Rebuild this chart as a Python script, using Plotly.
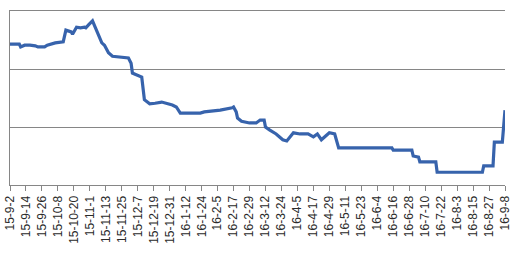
import plotly.graph_objects as go

dates = [
    "2015-09-02", "2015-09-09", "2015-09-10", "2015-09-13", "2015-09-17", "2015-09-21",
    "2015-09-23", "2015-09-28", "2015-09-30", "2015-10-06", "2015-10-12", "2015-10-14",
    "2015-10-18", "2015-10-19", "2015-10-22", "2015-10-25", "2015-10-28", "2015-10-29",
    "2015-10-31", "2015-11-03", "2015-11-05", "2015-11-06", "2015-11-10", "2015-11-12",
    "2015-11-15", "2015-11-18", "2015-11-30", "2015-12-02", "2015-12-03", "2015-12-05",
    "2015-12-10", "2015-12-12", "2015-12-16", "2015-12-20", "2015-12-25", "2016-01-02",
    "2016-01-05", "2016-01-08", "2016-01-23", "2016-01-26", "2016-02-03", "2016-02-07",
    "2016-02-16", "2016-02-17", "2016-02-19", "2016-02-20", "2016-02-23", "2016-02-29",
    "2016-03-05", "2016-03-08", "2016-03-11", "2016-03-12", "2016-03-15", "2016-03-20",
    "2016-03-25", "2016-03-28", "2016-04-02", "2016-04-07", "2016-04-13", "2016-04-17",
    "2016-04-20", "2016-04-23", "2016-04-29", "2016-05-03", "2016-05-06", "2016-06-15",
    "2016-06-16", "2016-06-30", "2016-07-01", "2016-07-05", "2016-07-06", "2016-07-18",
    "2016-07-19", "2016-08-22", "2016-08-23", "2016-08-30", "2016-08-31", "2016-09-06",
    "2016-09-08",
]
values = [
    2.43, 2.43, 2.38, 2.41, 2.41, 2.40,
    2.38, 2.38, 2.41, 2.45, 2.47, 2.67,
    2.64, 2.60, 2.72, 2.71, 2.72, 2.71,
    2.76, 2.83, 2.72, 2.67, 2.45, 2.41,
    2.28, 2.22, 2.19, 2.10, 1.93, 1.91,
    1.86, 1.47, 1.40, 1.41, 1.43, 1.38,
    1.345, 1.24, 1.24, 1.26, 1.28, 1.29,
    1.33, 1.345, 1.26, 1.155, 1.10, 1.07,
    1.07, 1.12, 1.12, 1.00, 0.95, 0.88,
    0.78, 0.76, 0.90, 0.88, 0.88, 0.83,
    0.88, 0.78, 0.90, 0.88, 0.64, 0.64,
    0.60, 0.60, 0.50, 0.48, 0.40, 0.40,
    0.22, 0.22, 0.33, 0.33, 0.74, 0.74,
    1.29,
]

x_start = "2015-09-02"
x_end = "2016-09-08"
tick_step_days = 12
y_min, y_max, y_step = 0, 3, 1

fig = go.Figure(
    go.Scatter(
        x=dates,
        y=values,
        mode="lines",
        line=dict(color="#3763AC", width=3.2),
        hoverinfo="x+y",
    )
)

fig.update_layout(
    width=516,
    height=256,
    margin=dict(l=10, r=11, t=11, b=71),
    paper_bgcolor="white",
    plot_bgcolor="white",
    showlegend=False,
    font=dict(family="Liberation Sans, Arial, sans-serif", size=12, color="#2b2b2b"),
)

fig.update_xaxes(
    type="date",
    range=[x_start, x_end],
    tick0=x_start,
    dtick=tick_step_days * 86400000,
    tickformat="%y-%-m-%-d",
    tickangle=-90,
    ticks="outside",
    ticklen=5,
    tickcolor="#868686",
    showline=True,
    mirror=True,
    linecolor="#868686",
    linewidth=1,
    showgrid=False,
    zeroline=False,
    automargin=False,
    tickfont=dict(size=12, color="#2b2b2b"),
)

fig.update_yaxes(
    range=[y_min, y_max],
    dtick=y_step,
    showticklabels=False,
    ticks="",
    showline=True,
    linecolor="#868686",
    linewidth=1,
    showgrid=True,
    gridcolor="#868686",
    gridwidth=1,
    zeroline=False,
    automargin=False,
)

fig.write_html("out.html")
